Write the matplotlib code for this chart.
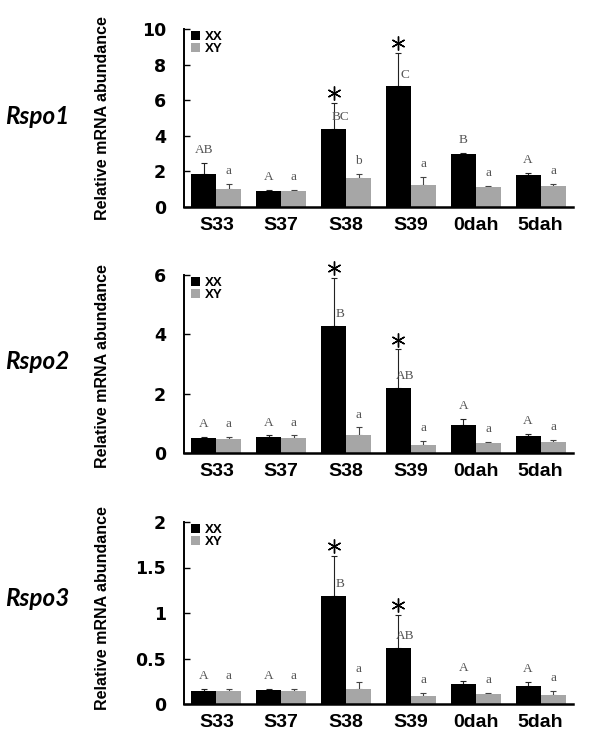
import numpy as np
import matplotlib
matplotlib.use('Agg')
import matplotlib.pyplot as plt

# Data
categories = ['S33', 'S37', 'S38', 'S39', '0dah', '5dah']
genes = ['Rspo1', 'Rspo2', 'Rspo3']

rspo1_xx = [1.87, 0.90, 4.38, 6.78, 2.98, 1.80]
rspo1_xx_err = [0.60, 0.07, 1.46, 1.87, 0.05, 0.11]
rspo1_xy = [1.03, 0.88, 1.63, 1.25, 1.14, 1.20]
rspo1_xy_err = [0.28, 0.06, 0.24, 0.44, 0.06, 0.11]
rspo1_xx_letters = ['AB', 'A', 'BC', 'C', 'B', 'A']
rspo1_xy_letters = ['a', 'a', 'b', 'a', 'a', 'a']
rspo1_star = [False, False, True, True, False, False]

rspo2_xx = [0.50, 0.53, 4.29, 2.20, 0.96, 0.57]
rspo2_xx_err = [0.04, 0.06, 1.62, 1.29, 0.20, 0.08]
rspo2_xy = [0.47, 0.51, 0.60, 0.28, 0.34, 0.36]
rspo2_xy_err = [0.07, 0.08, 0.26, 0.11, 0.03, 0.07]
rspo2_xx_letters = ['A', 'A', 'B', 'AB', 'A', 'A']
rspo2_xy_letters = ['a', 'a', 'a', 'a', 'a', 'a']
rspo2_star = [False, False, True, True, False, False]

rspo3_xx = [0.145, 0.15, 1.185, 0.615, 0.217, 0.20]
rspo3_xx_err = [0.015, 0.017, 0.445, 0.365, 0.033, 0.043]
rspo3_xy = [0.14, 0.145, 0.17, 0.087, 0.105, 0.10]
rspo3_xy_err = [0.02, 0.022, 0.07, 0.033, 0.011, 0.038]
rspo3_xx_letters = ['A', 'A', 'B', 'AB', 'A', 'A']
rspo3_xy_letters = ['a', 'a', 'a', 'a', 'a', 'a']
rspo3_star = [False, False, True, True, False, False]

yticks1 = [0, 2, 4, 6, 8, 10]
yticks2 = [0, 2, 4, 6]
yticks3 = [0, 0.5, 1, 1.5, 2]
ytick_labels3 = ['0', '0.5', '1', '1.5', '2']

panels = [
    (rspo1_xx, rspo1_xx_err, rspo1_xy, rspo1_xy_err, rspo1_xx_letters, rspo1_xy_letters, rspo1_star, yticks1, [str(t) for t in yticks1]),
    (rspo2_xx, rspo2_xx_err, rspo2_xy, rspo2_xy_err, rspo2_xx_letters, rspo2_xy_letters, rspo2_star, yticks2, [str(t) for t in yticks2]),
    (rspo3_xx, rspo3_xx_err, rspo3_xy, rspo3_xy_err, rspo3_xx_letters, rspo3_xy_letters, rspo3_star, yticks3, ytick_labels3),
]

W, H = 600, 742
fig = plt.figure(figsize=(W / 100, H / 100), dpi=100)

# axes placement in pixels: (y of zero line, y of top)
ax_px = [(207, 29), (453, 275), (704, 522)]
label_y_px = [117, 362, 598]
ylabel_y_px = [118, 366, 608]
x_left, x_right = 184, 573

sans = ['Liberation Sans', 'DejaVu Sans']
serif = ['Liberation Serif', 'DejaVu Serif']
c_xx = '#000000'
c_xy = '#a6a6a6'
bw = 0.385

for i, (xx, xx_e, xy, xy_e, l_xx, l_xy, star, yt, ytl) in enumerate(panels):
    y0, y1 = ax_px[i]
    ax = fig.add_axes([x_left / W, 1 - y0 / H, (x_right - x_left) / W, (y0 - y1) / H])
    x = np.arange(len(categories))
    ymax = yt[-1]

    ax.bar(x - bw / 2, xx, bw, color=c_xx, label='XX', zorder=2)
    ax.bar(x + bw / 2, xy, bw, color=c_xy, label='XY', zorder=2)
    ax.errorbar(x - bw / 2, xx, yerr=[np.zeros(len(xx)), xx_e], fmt='none',
                ecolor='#222222', elinewidth=0.8, capsize=2, capthick=0.8, zorder=1)
    ax.errorbar(x + bw / 2, xy, yerr=[np.zeros(len(xy)), xy_e], fmt='none',
                ecolor='#444444', elinewidth=0.8, capsize=2, capthick=0.8, zorder=1)

    # letters of significance
    for j in range(len(categories)):
        for xpos, v, e, lab in [(x[j] - bw / 2, xx[j], xx_e[j], l_xx[j]),
                                (x[j] + bw / 2, xy[j], xy_e[j], l_xy[j])]:
            if e > 0.1 * ymax:
                ax.text(xpos + 0.1, v + 0.065 * ymax, lab, ha='center', va='center',
                        family=serif, fontsize=9.5, color='#555555')
            else:
                ax.annotate(lab, (xpos, v + e), xytext=(0, 5), textcoords='offset points',
                            ha='center', va='bottom', family=serif, fontsize=9.5, color='#555555')
        if star[j]:
            ax.plot(x[j] - bw / 2, xx[j] + xx_e[j] + 0.055 * ymax, marker=(6, 2, 0),
                    markersize=10, markeredgewidth=1.0, color='black', clip_on=False, zorder=3)

    ax.set_xlim(-0.5, len(categories) - 0.5)
    ax.set_ylim(0, ymax)
    ax.set_yticks(yt)
    ax.set_yticklabels(ytl, fontsize=12.5, fontweight='bold', family=['DejaVu Sans'])
    ax.set_xticks(x)
    ax.set_xticklabels(categories, fontsize=14, fontweight='bold', family=sans)
    ax.tick_params(axis='y', direction='in', length=4, width=1, pad=13)
    ax.tick_params(axis='x', length=0, pad=7)
    for s in ['top', 'right']:
        ax.spines[s].set_visible(False)
    ax.spines['left'].set_linewidth(1.4)
    ax.spines['bottom'].set_linewidth(1.8)

    leg = ax.legend(loc='upper left', bbox_to_anchor=(0.0, 1.03), frameon=False,
                    handlelength=0.7, handleheight=0.7, handletextpad=0.3,
                    labelspacing=0.0, borderaxespad=0.15,
                    prop={'family': sans, 'weight': 'bold', 'size': 9.5})

    fig.text(102 / W, 1 - ylabel_y_px[i] / H, 'Relative mRNA abundance', rotation=90,
             ha='center', va='center', family=sans, fontweight='bold', fontsize=11.5)
    fig.text(5 / W, 1 - label_y_px[i] / H, genes[i], ha='left', va='center',
             family=['Lato', 'DejaVu Sans'], fontweight='bold', style='italic', fontsize=17.5)

fig.savefig('out.png', dpi=100)
